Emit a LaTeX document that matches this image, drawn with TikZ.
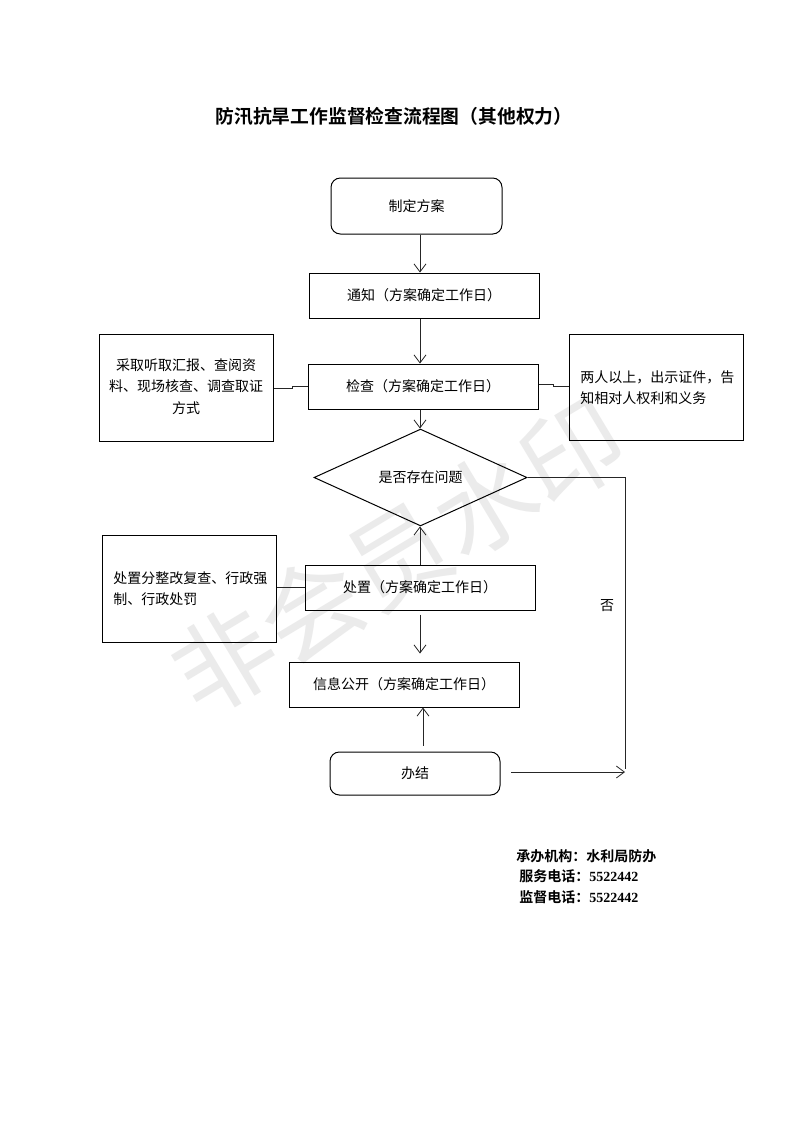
\documentclass[tikz,border=0pt]{standalone}
\usepackage{fontspec}
\setmainfont{Noto Sans CJK SC}[BoldFont={Noto Sans CJK SC Bold}]
\newfontfamily\latinserif{Liberation Serif}
\usetikzlibrary{shapes.geometric,arrows.meta,calc}
\begin{document}
\begin{tikzpicture}[x=0.75pt,y=-0.75pt,
  font=\fontsize{10.5pt}{16pt}\selectfont,
  box/.style={draw, line width=0.75pt, inner sep=0pt, minimum width=172.5pt, minimum height=33.75pt},
  sidebox/.style={draw, line width=0.75pt, inner sep=0pt, minimum width=130.5pt, minimum height=80.25pt},
  roundbox/.style={draw, line width=0.75pt, inner sep=0pt, rounded corners=7pt},
  decision/.style={draw, diamond, line width=0.75pt, inner sep=0pt, minimum width=159.75pt, minimum height=66.75pt},
  conn/.style={line width=0.6pt, draw=black!85},
  arr/.style={conn, -{Straight Barb[length=6pt,width=9pt,line width=0.6pt]}},
  txt/.style={inner sep=0pt, align=left}]
\useasboundingbox (0,0) rectangle (793,1122);
\fill[white] (0,0) rectangle (793,1122);

% watermark
\node[text=black!8, rotate=31, inner sep=0pt, font=\fontsize{76pt}{76pt}\selectfont] (wm) at (398,556) {非会员水印};

% title
\node[inner sep=0pt, font=\fontsize{14.1pt}{16pt}\selectfont\bfseries] (title) at (394,116) {防汛抗旱工作监督检查流程图（其他权力）};

% main nodes
\node[roundbox, minimum width=128.25pt, minimum height=42pt] (plan) at (416.5,206) {制定方案};
\node[box] (notify) at (424,295.5) {通知（方案确定工作日）};
\node[box] (check) at (423,386.5) {检查（方案确定工作日）};
\node[sidebox] (lbox1) at (186,387.5) {};
\node[txt, align=center] (ltext1) at (186,386.5) {采取听取汇报、查阅资\\料、现场核查、调查取证\\方式};
\node[sidebox, minimum height=79.5pt] (rbox1) at (656,387) {};
\node[txt, anchor=west] (rtext1) at (580,387.5) {两人以上，出示证件，告\\知相对人权利和义务};
\node[decision] (dia) at (420.5,477.5) {是否存在问题};
\node[sidebox] (lbox2) at (189.5,588.5) {};
\node[txt, anchor=west] (ltext2) at (113,589) {处置分整改复查、行政强\\制、行政处罚};
\node[box] (handle) at (420,587.5) {处置（方案确定工作日）};
\node[box] (publish) at (404,684.5) {信息公开（方案确定工作日）};
\node[roundbox, minimum width=127.5pt, minimum height=32.25pt] (done) at (415,773.5) {办结};
\node[inner sep=0pt] (no) at (607,606) {否};

% connectors
\draw[arr] (plan.south -| 420,0) -- (notify.north -| 420,0);
\draw[arr] (notify.south -| 420,0) -- (check.north -| 420,0);
\draw[arr] (check.south -| 420,0) -- (dia.north -| 420,0);
\draw[conn] (lbox1.east |- 0,388) -- (292,388) -- (292,386) -- (check.west |- 0,386);
\draw[conn] (check.east |- 0,384) -- (553,384) -- (553,386) -- (rbox1.west |- 0,386);
\coordinate (rc) at (625,772);
\draw[conn] (dia.east) -- (577,477.5) -- (577,477) -- (rc |- 0,477) -- ([yshift=2]rc);
\draw[arr] ([xshift=8]done.east |- rc) -- (rc);
\draw[arr] (handle.north -| 420,0) -- (dia.south -| 420,0);
\draw[conn] (lbox2.east |- handle.west) -- (handle.west);
\draw[arr, shorten <=3pt, shorten >=6pt] (handle.south -| 420,0) -- (publish.north -| 420,0);
\draw[arr, shorten <=4.5pt] (done.north -| 423,0) -- (publish.south -| 423,0);

% footer
\node[txt, anchor=west, font=\fontsize{10.5pt}{15.5pt}\selectfont\bfseries] (f1) at (516,856) {承办机构：水利局防办};
\node[txt, anchor=west, font=\fontsize{10.5pt}{15.5pt}\selectfont\bfseries] (f2) at (519,876.5) {服务电话：{\latinserif\bfseries 5522442}};
\node[txt, anchor=west, font=\fontsize{10.5pt}{15.5pt}\selectfont\bfseries] (f3) at (519,897) {监督电话：{\latinserif\bfseries 5522442}};
\end{tikzpicture}
\end{document}
